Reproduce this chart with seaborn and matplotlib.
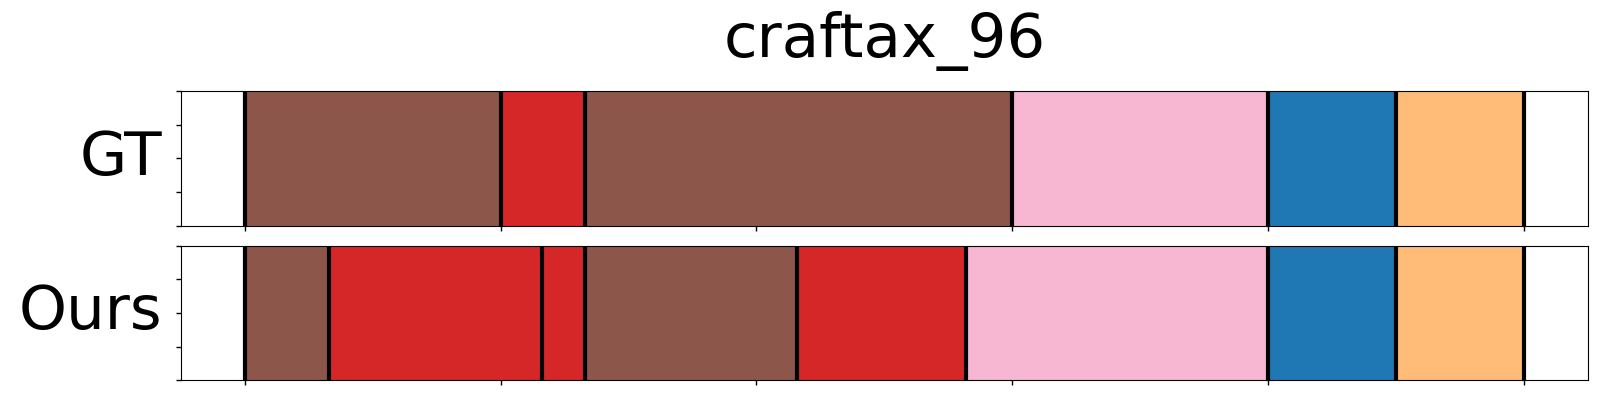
import numpy as np
import pandas as pd
import matplotlib
matplotlib.use("Agg")
import matplotlib.pyplot as plt
import seaborn as sns

title = "craftax_96"
row_names = ["GT", "Ours"]

# action ids (index into tab20) and segment end positions
gt_actions = [10, 6, 10, 13, 0, 3]
gt_ends = [50, 66.5, 150, 200, 225, 250]
ours_actions = [10, 6, 6, 10, 6, 13, 0, 3]
ours_ends = [16.4, 58, 66.5, 108, 141, 200, 225, 250]

rows = [(gt_actions, gt_ends), (ours_actions, ours_ends)]
total = gt_ends[-1]

tab20 = sns.color_palette("tab20", 20)
palette = {i: tab20[i] for i in set(gt_actions + ours_actions)}

fig, axes = plt.subplots(2, 1, figsize=(16, 4), dpi=100)
plt.subplots_adjust(left=0.113, right=0.9925, top=0.773, bottom=0.049, hspace=0.148)

for ax, name, (actions, ends) in zip(axes, row_names, rows):
    edges = [0] + list(ends)
    starts = edges[:-1]
    df = pd.DataFrame({"start": starts, "action": actions})
    sns.histplot(data=df, x="start", hue="action", bins=edges, palette=palette,
                 stat="count", multiple="layer", element="bars", fill=True,
                 alpha=1, linewidth=0, legend=False, ax=ax)
    for b in edges:
        ax.axvline(b, color="black", linewidth=3)
    ax.set_xlim(-0.05 * total, 1.05 * total)
    ax.set_ylim(0, 1)
    ax.set_xticks(np.linspace(0, total, 6))
    ax.set_xticklabels([])
    ax.set_yticks(np.linspace(0, 1, 5))
    ax.set_yticklabels([])
    ax.tick_params(length=3.5, width=1, color="black")
    ax.set_xlabel("")
    ax.set_ylabel(name, fontsize=44, rotation=0, ha="right", va="center", labelpad=6)

axes[0].set_title(title, fontsize=44, pad=24)

plt.savefig("out.png", dpi=100)
